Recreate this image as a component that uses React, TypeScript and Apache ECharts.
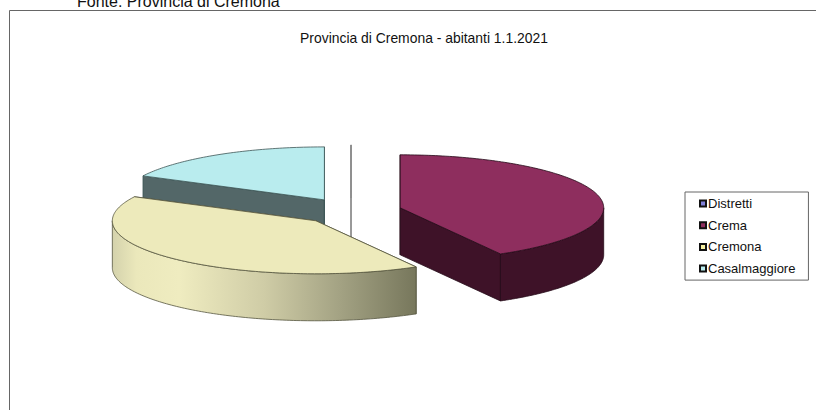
import React, { useEffect, useRef } from "react";
import * as echarts from "echarts";

const titleText = "Provincia di Cremona - abitanti 1.1.2021";
const sourceText = "Fonte: Provincia di Cremona";
const districts = ["Distretti", "Crema", "Cremona", "Casalmaggiore"];
const inhabitants = [0, 146300, 142400, 61300];

const topColors = ["#ffffff", "#8e2e5e", "#edeabb", "#b9ecee"];
const cutColors = ["#ffffff", "#3e1228", "#77775c", "#536768"];
const strokeColors = ["#8a8a8a", "#240a18", "#55553f", "#3d5556"];
const legendColors = ["#8080d8", "#8e2e5e", "#f5f0a0", "#b9ecee"];
const drawOrder = [0, 3, 1, 2];

const CX = 351;
const CY = 211.2;
const RX = 203.5;
const RY = 53;
const DEPTH = 47;
const EXPLODE = 0.25;

const total = inhabitants.reduce((a, b) => a + b, 0);

function sliceAngles(index: number) {
  let start = 0;
  for (let i = 0; i < index; i++) start += (inhabitants[i] / total) * 360;
  return { start, end: start + (inhabitants[index] / total) * 360 };
}

function renderSlice(index: number) {
  const { start, end } = sliceAngles(index);
  const rad = (d: number) => (d * Math.PI) / 180;
  const mid = (start + end) / 2;
  const cx = CX + EXPLODE * RX * Math.sin(rad(mid));
  const cy = CY - EXPLODE * RY * Math.cos(rad(mid));
  const at = (d: number, drop = 0): number[] => [
    cx + RX * Math.sin(rad(d)),
    cy - RY * Math.cos(rad(d)) + drop,
  ];
  const sweep = (a: number, b: number, drop = 0) => {
    const pts: number[][] = [];
    const n = Math.max(1, Math.ceil(Math.abs(b - a)));
    for (let i = 0; i <= n; i++) pts.push(at(a + ((b - a) * i) / n, drop));
    return pts;
  };
  const stroke = strokeColors[index];
  const lineWidth = 0.8;
  const poly = (points: number[][], fill: any) => ({
    type: "polygon",
    shape: { points },
    style: { fill, stroke, lineWidth, lineJoin: "round" },
  });
  const cut = (d: number) =>
    poly([[cx, cy], at(d), at(d, DEPTH), [cx, cy + DEPTH]], cutColors[index]);

  const children: any[] = [cut(start), cut(end)];
  const a = Math.max(start, 90);
  const b = Math.min(end, 270);
  if (b > a) {
    const fill =
      index === 2
        ? new echarts.graphic.LinearGradient(1, 0, 0, 0, [
            { offset: 0, color: "#77775c" },
            { offset: 0.25, color: "#a3a283" },
            { offset: 0.5, color: "#cfcca6" },
            { offset: 0.78, color: "#efecc0" },
            { offset: 0.92, color: "#ebe8bb" },
            { offset: 1, color: "#d4d2ac" },
          ])
        : cutColors[index];
    children.push(poly([...sweep(a, b), ...sweep(b, a, DEPTH)], fill));
  }
  children.push(poly([[cx, cy], ...sweep(start, end)], topColors[index]));
  return { type: "group", children };
}

export default function App() {
  const ref = useRef<HTMLDivElement>(null);
  useEffect(() => {
    const chart = echarts.init(ref.current!, null, { renderer: "svg" });
    chart.setOption({
      animation: false,
      backgroundColor: "#ffffff",
      textStyle: { fontFamily: "Liberation Sans" },
      title: {
        text: titleText,
        left: 419,
        top: 26,
        textAlign: "center",
        textStyle: { fontSize: 13.9, fontWeight: "normal", color: "#111111", fontFamily: "Liberation Sans" },
      },
      legend: {
        orient: "vertical",
        left: 685,
        top: 192,
        padding: [5, 13, 5, 14],
        backgroundColor: "#ffffff",
        borderColor: "#666666",
        borderWidth: 1,
        icon: "rect",
        itemWidth: 6,
        itemHeight: 6,
        itemGap: 8.7,
        selectedMode: false,
        textStyle: { fontSize: 13, color: "#111111", padding: [0, 0, 0, -3], fontFamily: "Liberation Sans" },
        data: districts.map((name, i) => ({
          name,
          itemStyle: { color: legendColors[i], borderColor: "#111111", borderWidth: 2 },
        })),
      },
      graphic: [
        {
          type: "rect",
          silent: true,
          z: -1,
          shape: { x: 9.5, y: 10.5, width: 900, height: 500 },
          style: { fill: "#ffffff", stroke: "#666666", lineWidth: 1 },
        },
        {
          type: "text",
          x: 77,
          y: -7,
          style: { text: sourceText, fontSize: 16, fill: "#111111", fontFamily: "Liberation Sans" },
        },
      ],
      series: drawOrder.map((i) => ({
        type: "custom",
        name: districts[i],
        coordinateSystem: "none",
        silent: true,
        itemStyle: { color: legendColors[i] },
        data: [inhabitants[i]],
        renderItem: () => renderSlice(i),
      })),
    });
    return () => chart.dispose();
  }, []);
  return <div ref={ref} style={{ position: "absolute", left: 0, top: 0, width: 816, height: 410 }} />;
}
